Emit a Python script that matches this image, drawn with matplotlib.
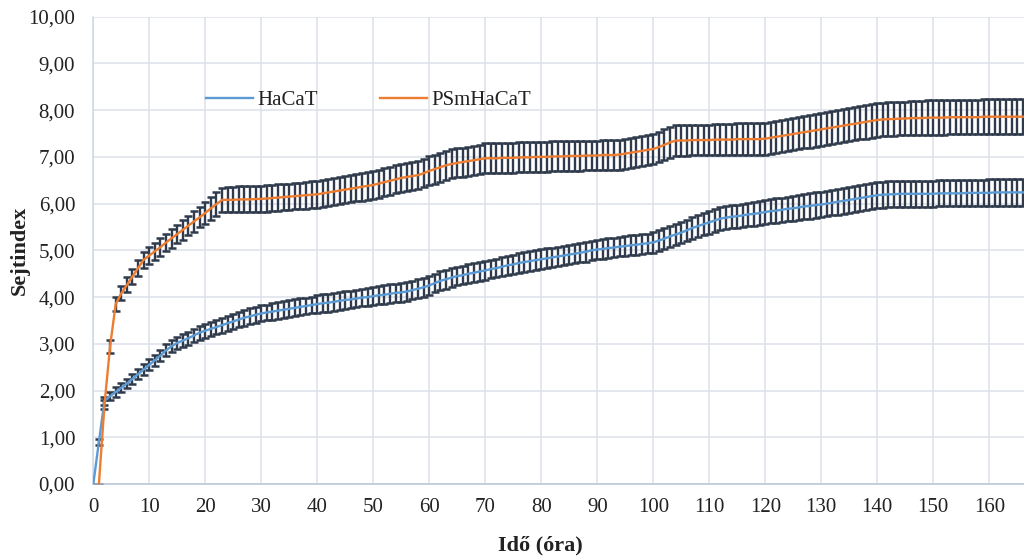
import matplotlib
matplotlib.use("Agg")
import matplotlib.pyplot as plt
import numpy as np

# ---- data ----
hours_hacat = list(range(0, 167))
hours_psm = list(range(1, 167))

hacat = [
    0.00, 0.90, 1.78, 1.88, 1.97, 2.06, 2.15, 2.25, 2.35, 2.45,
    2.55, 2.65, 2.75, 2.86, 2.95, 3.02, 3.07, 3.12, 3.18, 3.24,
    3.28, 3.32, 3.36, 3.40, 3.44, 3.48, 3.52, 3.56, 3.59, 3.62,
    3.65, 3.67, 3.69, 3.71, 3.73, 3.75, 3.77, 3.79, 3.81, 3.83,
    3.85, 3.87, 3.88, 3.90, 3.92, 3.94, 3.95, 3.97, 3.99, 4.00,
    4.02, 4.04, 4.05, 4.07, 4.09, 4.10, 4.12, 4.15, 4.18, 4.21,
    4.25, 4.30, 4.35, 4.38, 4.42, 4.45, 4.47, 4.50, 4.52, 4.55,
    4.57, 4.60, 4.62, 4.65, 4.68, 4.70, 4.73, 4.75, 4.77, 4.79,
    4.81, 4.83, 4.85, 4.87, 4.89, 4.91, 4.93, 4.95, 4.97, 5.00,
    5.02, 5.03, 5.05, 5.06, 5.08, 5.09, 5.11, 5.12, 5.14, 5.15,
    5.17, 5.21, 5.25, 5.30, 5.34, 5.38, 5.43, 5.48, 5.52, 5.56,
    5.60, 5.64, 5.68, 5.70, 5.72, 5.73, 5.75, 5.77, 5.78, 5.80,
    5.82, 5.84, 5.85, 5.87, 5.89, 5.90, 5.92, 5.94, 5.95, 5.97,
    5.98, 6.00, 6.02, 6.04, 6.06, 6.08, 6.10, 6.12, 6.14, 6.16,
    6.18, 6.19, 6.20, 6.20, 6.21, 6.21, 6.21, 6.21, 6.21, 6.21,
    6.21, 6.22, 6.22, 6.22, 6.22, 6.22, 6.23, 6.23, 6.23, 6.23,
    6.23, 6.24, 6.24, 6.24, 6.24, 6.24, 6.24,
]

hacat_sd = [
    0.00, 0.07, 0.09, 0.09, 0.10, 0.10, 0.10, 0.11, 0.11, 0.11,
    0.12, 0.12, 0.12, 0.13, 0.13, 0.13, 0.14, 0.14, 0.14, 0.15,
    0.15, 0.15, 0.15, 0.16, 0.16, 0.16, 0.17, 0.17, 0.17, 0.17,
    0.17, 0.17, 0.18, 0.18, 0.18, 0.18, 0.18, 0.18, 0.18, 0.18,
    0.19, 0.19, 0.19, 0.19, 0.19, 0.19, 0.19, 0.19, 0.19, 0.19,
    0.19, 0.19, 0.20, 0.20, 0.20, 0.20, 0.20, 0.20, 0.20, 0.20,
    0.20, 0.20, 0.20, 0.20, 0.20, 0.20, 0.20, 0.20, 0.20, 0.20,
    0.20, 0.20, 0.20, 0.20, 0.20, 0.21, 0.21, 0.21, 0.21, 0.21,
    0.21, 0.21, 0.21, 0.21, 0.21, 0.21, 0.21, 0.21, 0.21, 0.21,
    0.21, 0.21, 0.21, 0.21, 0.21, 0.21, 0.21, 0.21, 0.21, 0.21,
    0.22, 0.22, 0.22, 0.23, 0.23, 0.23, 0.23, 0.24, 0.24, 0.24,
    0.24, 0.24, 0.25, 0.25, 0.25, 0.25, 0.25, 0.25, 0.26, 0.26,
    0.26, 0.26, 0.26, 0.26, 0.26, 0.27, 0.27, 0.27, 0.27, 0.27,
    0.27, 0.27, 0.27, 0.28, 0.28, 0.28, 0.28, 0.28, 0.28, 0.28,
    0.28, 0.28, 0.28, 0.28, 0.28, 0.28, 0.28, 0.28, 0.28, 0.28,
    0.28, 0.28, 0.28, 0.28, 0.28, 0.28, 0.28, 0.28, 0.28, 0.28,
    0.29, 0.29, 0.29, 0.29, 0.29, 0.29, 0.29,
]

psm = [
    0.00, 1.70, 2.95, 3.85, 4.08, 4.26, 4.44, 4.62, 4.80, 4.89,
    4.98, 5.07, 5.17, 5.26, 5.35, 5.44, 5.53, 5.62, 5.71, 5.80,
    5.90, 5.99, 6.08, 6.08, 6.08, 6.09, 6.09, 6.09, 6.10, 6.10,
    6.11, 6.12, 6.13, 6.14, 6.15, 6.16, 6.17, 6.18, 6.19, 6.20,
    6.22, 6.24, 6.26, 6.28, 6.30, 6.32, 6.34, 6.36, 6.38, 6.40,
    6.43, 6.46, 6.49, 6.52, 6.55, 6.57, 6.59, 6.61, 6.65, 6.70,
    6.74, 6.78, 6.82, 6.85, 6.87, 6.89, 6.91, 6.93, 6.95, 6.97,
    6.97, 6.97, 6.98, 6.98, 6.98, 6.99, 6.99, 6.99, 7.00, 7.00,
    7.00, 7.01, 7.01, 7.01, 7.02, 7.02, 7.02, 7.03, 7.03, 7.03,
    7.04, 7.04, 7.04, 7.05, 7.07, 7.09, 7.11, 7.13, 7.15, 7.17,
    7.21, 7.26, 7.31, 7.35, 7.35, 7.35, 7.36, 7.36, 7.36, 7.36,
    7.37, 7.37, 7.37, 7.37, 7.38, 7.38, 7.38, 7.38, 7.38, 7.39,
    7.41, 7.43, 7.45, 7.47, 7.49, 7.51, 7.53, 7.55, 7.57, 7.59,
    7.61, 7.63, 7.65, 7.67, 7.69, 7.71, 7.73, 7.75, 7.77, 7.79,
    7.80, 7.81, 7.81, 7.82, 7.82, 7.83, 7.83, 7.83, 7.84, 7.84,
    7.84, 7.84, 7.85, 7.85, 7.85, 7.85, 7.85, 7.85, 7.86, 7.86,
    7.86, 7.86, 7.86, 7.86, 7.86, 7.86,
]

psm_sd = [
    0.00, 0.09, 0.14, 0.15, 0.15, 0.16, 0.16, 0.17, 0.17, 0.18,
    0.18, 0.19, 0.19, 0.20, 0.20, 0.21, 0.21, 0.22, 0.22, 0.23,
    0.24, 0.25, 0.26, 0.27, 0.27, 0.28, 0.28, 0.28, 0.28, 0.28,
    0.28, 0.28, 0.28, 0.28, 0.28, 0.28, 0.28, 0.29, 0.29, 0.29,
    0.29, 0.29, 0.29, 0.29, 0.29, 0.29, 0.29, 0.30, 0.30, 0.30,
    0.30, 0.30, 0.30, 0.30, 0.30, 0.30, 0.30, 0.30, 0.30, 0.31,
    0.31, 0.31, 0.31, 0.31, 0.31, 0.31, 0.31, 0.31, 0.31, 0.32,
    0.32, 0.32, 0.32, 0.32, 0.32, 0.32, 0.32, 0.32, 0.32, 0.32,
    0.32, 0.32, 0.32, 0.32, 0.32, 0.32, 0.32, 0.32, 0.32, 0.32,
    0.32, 0.32, 0.32, 0.32, 0.32, 0.32, 0.32, 0.32, 0.32, 0.33,
    0.33, 0.33, 0.33, 0.33, 0.33, 0.33, 0.33, 0.33, 0.33, 0.33,
    0.34, 0.34, 0.34, 0.34, 0.34, 0.34, 0.34, 0.34, 0.34, 0.34,
    0.34, 0.34, 0.34, 0.35, 0.35, 0.35, 0.35, 0.35, 0.35, 0.35,
    0.35, 0.35, 0.35, 0.35, 0.35, 0.35, 0.35, 0.36, 0.36, 0.36,
    0.36, 0.36, 0.36, 0.36, 0.36, 0.36, 0.36, 0.36, 0.37, 0.37,
    0.37, 0.37, 0.37, 0.37, 0.37, 0.37, 0.37, 0.37, 0.37, 0.37,
    0.37, 0.37, 0.37, 0.37, 0.37, 0.37,
]

x_ticks = list(range(0, 161, 10))
y_ticks = [0, 1, 2, 3, 4, 5, 6, 7, 8, 9, 10]

series_names = ["HaCaT", "PSmHaCaT"]

# ---- styling ----
plt.rcParams["font.family"] = ["Liberation Serif", "DejaVu Serif"]
blue = "#5B9BD5"
orange = "#ED7D31"
err_col = "#2F3B4C"
grid_col = "#DCE1EA"
text_col = "#222222"

fig = plt.figure(figsize=(10.24, 5.58), dpi=100)
ax = fig.add_axes([93.3 / 1024, 74 / 558, 1 - 93.3 / 1024, 467.3 / 558])

ax.errorbar(hours_hacat, hacat, yerr=hacat_sd, fmt="none", ecolor=err_col,
            elinewidth=1.7, capsize=3.0, capthick=1.8, zorder=2)
ax.errorbar(hours_psm, psm, yerr=psm_sd, fmt="none", ecolor=err_col,
            elinewidth=1.7, capsize=3.0, capthick=1.8, zorder=2)
ax.plot(hours_hacat, hacat, color=blue, lw=1.7, label=series_names[0], zorder=3)
ax.plot(hours_psm, psm, color=orange, lw=1.7, label=series_names[1], zorder=3)

ax.set_xlim(0, 166.2)
ax.set_ylim(0, 10)
ax.set_xticks(x_ticks)
ax.set_yticks(y_ticks)
ax.set_yticklabels([f"{v:.2f}".replace(".", ",") for v in y_ticks])
ax.tick_params(axis="both", length=0, labelsize=15, colors=text_col)
ax.tick_params(axis="x", pad=10)
ax.tick_params(axis="y", pad=13)

ax.grid(True, color=grid_col, lw=1.1, zorder=0)
ax.set_axisbelow(True)
for s in ["top", "right"]:
    ax.spines[s].set_visible(False)
ax.spines["left"].set_color("#D0D7E3")
ax.spines["left"].set_linewidth(1.1)
ax.spines["bottom"].set_color("#B8C4D6")
ax.spines["bottom"].set_linewidth(1.1)

fig.text(20 / 1024, 1 - 250 / 558, "Sejtindex", rotation=90, ha="center",
         va="center", fontsize=16, fontweight="bold", color=text_col)
fig.text(540 / 1024, 1 - 545 / 558, "Idő (óra)", ha="center", va="center",
         fontsize=16, fontweight="bold", color=text_col)

leg = ax.legend(loc="center left", bbox_to_anchor=(206 / 1024, 1 - 100.7 / 558),
                bbox_transform=fig.transFigure, ncol=2, frameon=False,
                fontsize=15, handlelength=2.26, handletextpad=0.22,
                columnspacing=2.95, borderpad=0, borderaxespad=0)
for t in leg.get_texts():
    t.set_color(text_col)

fig.savefig("out.png", dpi=100)
